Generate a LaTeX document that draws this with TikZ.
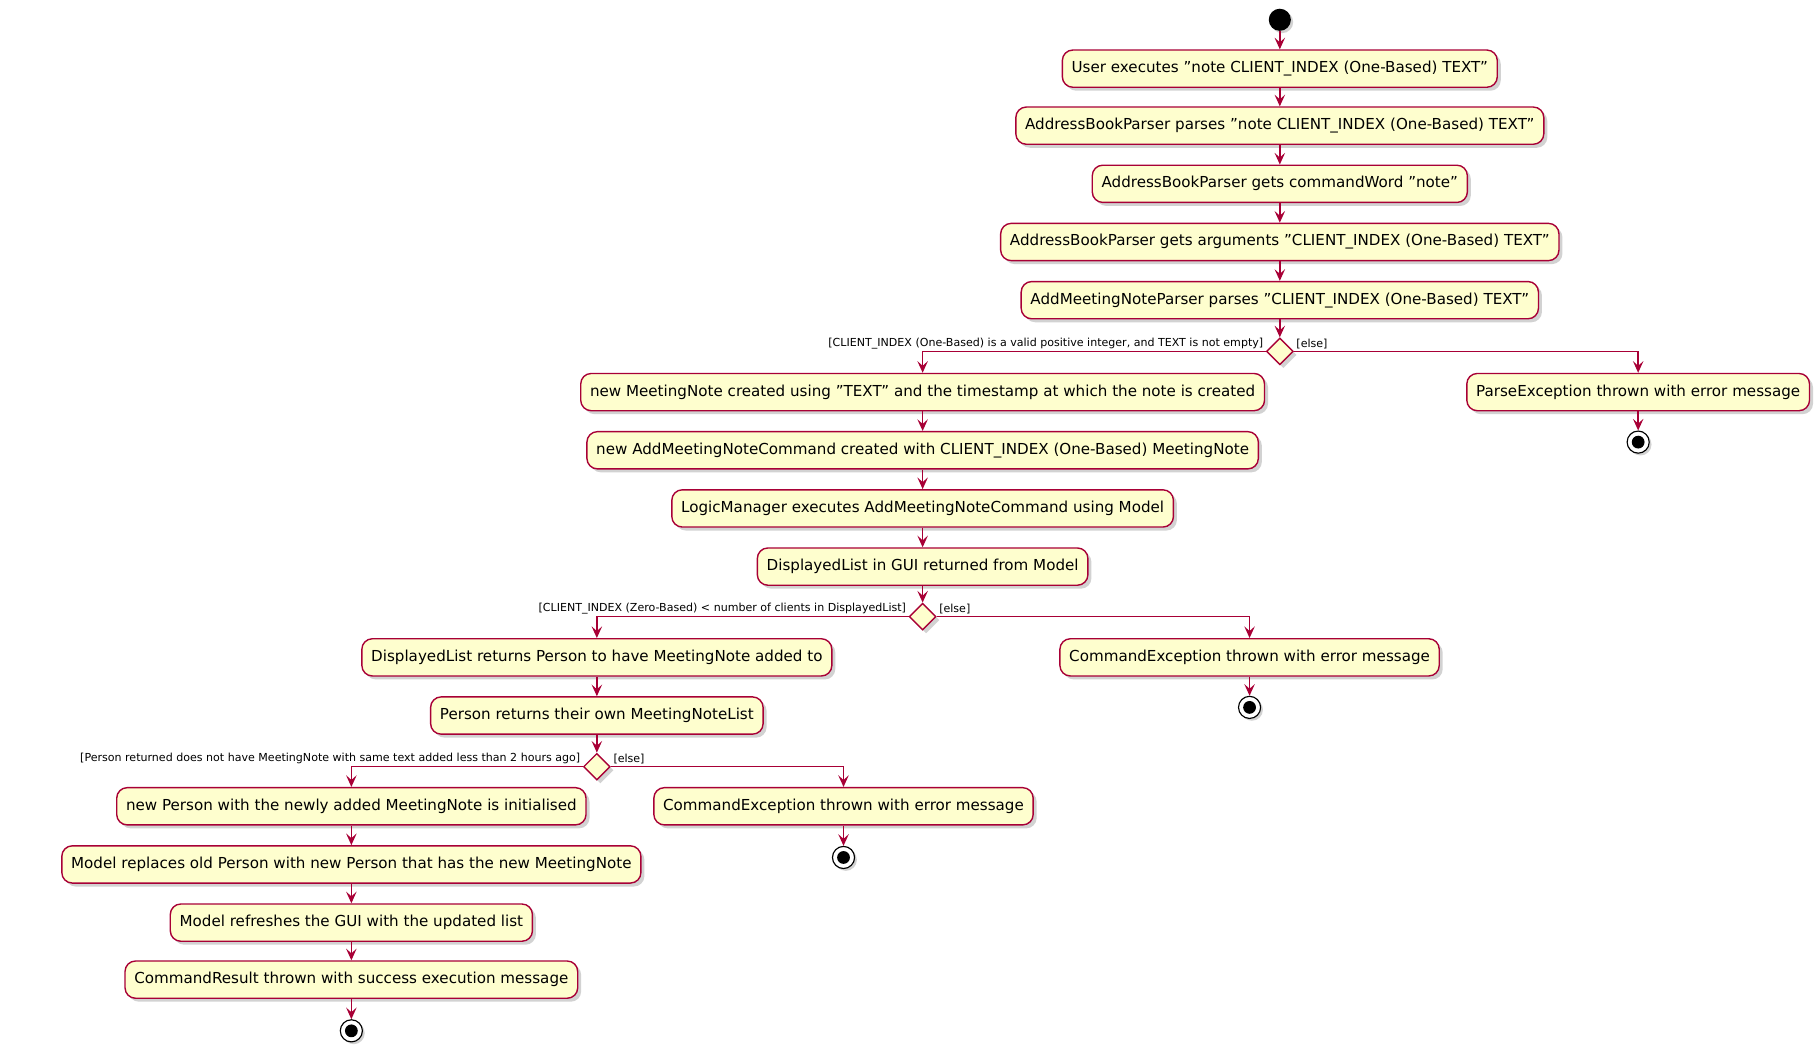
\documentclass[tikz,border=0pt]{standalone}
\usepackage{fontspec}
\setmainfont{DejaVu Sans}
\usetikzlibrary{shapes.geometric,shadows,arrows.meta}
\definecolor{bx}{HTML}{FEFECE}
\definecolor{ln}{HTML}{A80036}
\begin{document}
\begin{tikzpicture}[x=1pt,y=-1pt,
  act/.style={draw=ln,fill=bx,line width=1.2pt,rounded corners=9pt,minimum height=32pt,inner xsep=8pt,font=\fontsize{13}{15}\selectfont,drop shadow={shadow xshift=3pt,shadow yshift=-3pt,fill=black!35}},
  dec/.style={draw=ln,fill=bx,line width=1.2pt,diamond,minimum width=23pt,minimum height=23pt,inner sep=0pt,drop shadow={shadow xshift=3pt,shadow yshift=-3pt,fill=black!35}},
  start/.style={circle,fill=black,minimum size=19pt,inner sep=0pt,drop shadow={shadow xshift=2pt,shadow yshift=-2pt,fill=black!35}},
  stop/.style={circle,draw=black,fill=white,line width=1pt,minimum size=19pt,inner sep=0pt,path picture={\fill[black] (path picture bounding box.center) circle (5.5pt);},drop shadow={shadow xshift=2pt,shadow yshift=-2pt,fill=black!35}},
  arr/.style={draw=ln,line width=1.2pt,-{Stealth[length=10pt,width=9pt,inset=4pt]}},
  lab/.style={font=\fontsize{9.5}{11}\selectfont,inner sep=2pt}]
\useasboundingbox (0,0) rectangle (1560,903.5);
\node[start] (s) at (1100,17) {};
\node[act] (a1) at (1100,59) {User executes "note CLIENT\_INDEX (One-Based) TEXT"};
\node[act] (a2) at (1100,108) {AddressBookParser parses "note CLIENT\_INDEX (One-Based) TEXT"};
\node[act] (a3) at (1100,158) {AddressBookParser gets commandWord "note"};
\node[act] (a4) at (1100,208) {AddressBookParser gets arguments "CLIENT\_INDEX (One-Based) TEXT"};
\node[act] (a5) at (1100,258) {AddMeetingNoteParser parses "CLIENT\_INDEX (One-Based) TEXT"};
\node[dec] (d1) at (1100,302) {};
\node[act] (b1) at (793,337) {new MeetingNote created using "TEXT" and the timestamp at which the note is created};
\node[act] (p1) at (1408,337) {ParseException thrown with error message};
\node[stop] (e1) at (1408,380) {};
\node[act] (b2) at (793,387) {new AddMeetingNoteCommand created with CLIENT\_INDEX (One-Based) MeetingNote};
\node[act] (b3) at (793,437) {LogicManager executes AddMeetingNoteCommand using Model};
\node[act] (b4) at (793,487) {DisplayedList in GUI returned from Model};
\node[dec] (d2) at (793,530) {};
\node[act] (c1) at (513,565) {DisplayedList returns Person to have MeetingNote added to};
\node[act] (q1) at (1074,565) {CommandException thrown with error message};
\node[stop] (e2) at (1074,608) {};
\node[act] (c2) at (513,615) {Person returns their own MeetingNoteList};
\node[dec] (d3) at (513,659) {};
\node[act] (f1) at (302,693) {new Person with the newly added MeetingNote is initialised};
\node[act] (r1) at (725,693) {CommandException thrown with error message};
\node[stop] (e3) at (725,737) {};
\node[act] (f2) at (302,743) {Model replaces old Person with new Person that has the new MeetingNote};
\node[act] (f3) at (302,793) {Model refreshes the GUI with the updated list};
\node[act] (f4) at (302,842) {CommandResult thrown with success execution message};
\node[stop] (e4) at (302,886) {};
\draw[arr] (s) -- (a1);
\draw[arr] (a1) -- (a2);
\draw[arr] (a2) -- (a3);
\draw[arr] (a3) -- (a4);
\draw[arr] (a4) -- (a5);
\draw[arr] (a5) -- (d1);
\draw[arr] (d1.west) -| (b1.north);
\draw[arr] (d1.east) -| (p1.north);
\draw[arr] (p1) -- (e1);
\draw[arr] (b1) -- (b2);
\draw[arr] (b2) -- (b3);
\draw[arr] (b3) -- (b4);
\draw[arr] (b4) -- (d2);
\draw[arr] (d2.west) -| (c1.north);
\draw[arr] (d2.east) -| (q1.north);
\draw[arr] (q1) -- (e2);
\draw[arr] (c1) -- (c2);
\draw[arr] (c2) -- (d3);
\draw[arr] (d3.west) -| (f1.north);
\draw[arr] (d3.east) -| (r1.north);
\draw[arr] (r1) -- (e3);
\draw[arr] (f1) -- (f2);
\draw[arr] (f2) -- (f3);
\draw[arr] (f3) -- (f4);
\draw[arr] (f4) -- (e4);
\node[lab,anchor=south east] (l1) at (d1.west) {[CLIENT\_INDEX (One-Based) is a valid positive integer, and TEXT is not empty]};
\node[lab,anchor=south west] (l2) at (d1.east) {[else]};
\node[lab,anchor=south east] (l3) at (d2.west) {[CLIENT\_INDEX (Zero-Based) < number of clients in DisplayedList]};
\node[lab,anchor=south west] (l4) at (d2.east) {[else]};
\node[lab,anchor=south east] (l5) at (d3.west) {[Person returned does not have MeetingNote with same text added less than 2 hours ago]};
\node[lab,anchor=south west] (l6) at (d3.east) {[else]};
\end{tikzpicture}
\end{document}
